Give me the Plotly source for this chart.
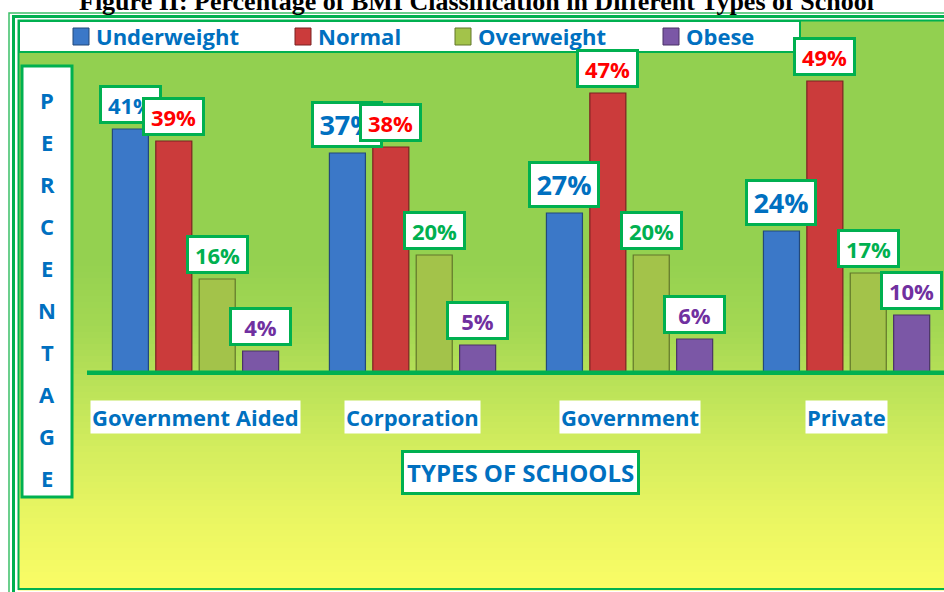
import plotly.graph_objects as go

schools = ["Government Aided", "Corporation", "Government", "Private"]
series_names = ["Underweight", "Normal", "Overweight", "Obese"]
underweight = [41, 37, 27, 24]
normal = [39, 38, 47, 49]
overweight = [16, 20, 20, 17]
obese = [4, 5, 6, 10]
series_values = [underweight, normal, overweight, obese]

bar_colors = ["#3B78C8", "#CB3B3B", "#A3C34A", "#7B57A6"]
edge_colors = ["#23497A", "#7A2222", "#62772A", "#4A3366"]
label_colors = ["#0070C0", "#FF0000", "#00B050", "#7030A0"]
BLUE = "#0070C0"
GREEN = "#00B050"
FONT = "Open Sans"

W, H = 944, 592
L, T, B = 87, 60, 217
PW = W - L
PH = H - T - B


def px(x):
    return (x - L) / PW


def py(y):
    return (H - B - y) / PH


fig = go.Figure()
for name, vals, c, ec in zip(series_names, series_values, bar_colors, edge_colors):
    fig.add_trace(go.Bar(
        x=schools, y=vals, name=name,
        marker=dict(color=c, line=dict(color=ec, width=1.2)),
        showlegend=False, hoverinfo="skip",
    ))

shapes = []


def hex2rgb(h):
    h = h.lstrip("#")
    return tuple(int(h[i:i + 2], 16) for i in (0, 2, 4))


stops = [(20, "#92D050"), (260, "#94D150"), (330, "#A4D853"), (380, "#B8E158"),
         (450, "#D4ED5E"), (520, "#EAF662"), (590, "#FAFC66")]


def grad(yv):
    for (y0, c0), (y1, c1) in zip(stops[:-1], stops[1:]):
        if y0 <= yv <= y1:
            t = (yv - y0) / (y1 - y0)
            a, b = hex2rgb(c0), hex2rgb(c1)
            return "rgb(%d,%d,%d)" % tuple(round(a[i] + (b[i] - a[i]) * t) for i in range(3))
    return stops[-1][1]


step = 6
yy = 20
while yy < 590:
    y2 = min(yy + step, 590)
    shapes.append(dict(type="rect", xref="paper", yref="paper",
                       x0=px(18), x1=px(960), y0=py(y2 + 0.5), y1=py(yy),
                       fillcolor=grad(yy + step / 2), line=dict(width=0), layer="below"))
    yy = y2

# frame lines
shapes.append(dict(type="rect", xref="paper", yref="paper", x0=px(9), x1=px(1000), y0=py(700), y1=py(13),
                   line=dict(color="#3CC068", width=1.5), fillcolor="rgba(0,0,0,0)", layer="below"))
shapes.append(dict(type="rect", xref="paper", yref="paper", x0=px(13.5), x1=px(1000), y0=py(700), y1=py(16.5),
                   line=dict(color=GREEN, width=3), fillcolor="rgba(0,0,0,0)", layer="below"))
shapes.append(dict(type="rect", xref="paper", yref="paper", x0=px(18.5), x1=px(1000), y0=py(589), y1=py(20.5),
                   line=dict(color=GREEN, width=2), fillcolor="rgba(0,0,0,0)", layer="below"))

# legend box
shapes.append(dict(type="rect", xref="paper", yref="paper", x0=px(19), x1=px(800), y0=py(52), y1=py(21),
                   line=dict(color=GREEN, width=2), fillcolor="white", layer="below"))
# y label box
shapes.append(dict(type="rect", xref="paper", yref="paper", x0=px(22), x1=px(72), y0=py(497), y1=py(66),
                   line=dict(color=GREEN, width=3), fillcolor="white", layer="below"))
# baseline
shapes.append(dict(type="line", xref="paper", yref="y", x0=0, x1=1, y0=0, y1=0,
                   line=dict(color=GREEN, width=9), layer="above"))

annotations = []

# title (clipped at top of page, as in the source)
annotations.append(dict(text="<b>Figure II: Percentage of BMI Classification in Different Types of School</b>",
                        xref="paper", yref="paper", x=px(476), y=py(1), showarrow=False,
                        xanchor="center", yanchor="middle",
                        font=dict(family="Liberation Serif", size=26, color="black")))

# custom legend
leg_marker_x = [73, 295, 455, 663]
for name, c, ec, mx in zip(series_names, bar_colors, edge_colors, leg_marker_x):
    shapes.append(dict(type="rect", xref="paper", yref="paper", x0=px(mx), x1=px(mx + 16),
                       y0=py(45), y1=py(28), fillcolor=c, line=dict(color=ec, width=1), layer="above"))
    annotations.append(dict(text="<b>%s</b>" % name, xref="paper", yref="paper", x=px(mx + 21), y=py(36),
                            xanchor="left", yanchor="middle", showarrow=False,
                            font=dict(family=FONT, size=22, color=BLUE)))

# data labels
big = {(0, 1), (0, 2), (0, 3)}
slot_px = 0.2 * PW / 3.949
for si, (vals, lc) in enumerate(zip(series_values, label_colors)):
    for ci, (sch, v) in enumerate(zip(schools, vals)):
        is_big = (si, ci) in big
        annotations.append(dict(text="<b>%d%%</b>" % v, x=sch, y=v, xref="x", yref="y",
                                xshift=(si - 1.5) * slot_px, yshift=5,
                                xanchor="center", yanchor="bottom", showarrow=False,
                                width=66 if is_big else 57, height=41 if is_big else 33,
                                bgcolor="white", bordercolor=GREEN, borderwidth=3, borderpad=0,
                                font=dict(family=FONT, size=27 if is_big else 22, color=lc)))

# category labels
for sch in schools:
    annotations.append(dict(text="<b>%s</b>" % sch, x=sch, y=py(417), xref="x", yref="paper",
                            xanchor="center", yanchor="middle", showarrow=False,
                            bgcolor="white", borderpad=1,
                            font=dict(family=FONT, size=22, color=BLUE)))

# x axis title
annotations.append(dict(text="<b>TYPES OF SCHOOLS</b>", xref="paper", yref="paper", x=px(520), y=py(472),
                        xanchor="center", yanchor="middle", showarrow=False,
                        bgcolor="white", bordercolor=GREEN, borderwidth=3, borderpad=3,
                        font=dict(family=FONT, size=24, color=BLUE)))

# y axis title letters
for k, ch in enumerate("PERCENTAGE"):
    annotations.append(dict(text="<b>%s</b>" % ch, xref="paper", yref="paper", x=px(47), y=py(100 + 42 * k),
                            xanchor="center", yanchor="middle", showarrow=False,
                            font=dict(family=FONT, size=22, color=BLUE)))

fig.update_layout(
    width=W, height=H, autosize=False,
    margin=dict(l=L, r=0, t=T, b=B, pad=0),
    paper_bgcolor="white", plot_bgcolor="rgba(0,0,0,0)",
    barmode="group", bargap=0.2, bargroupgap=0.17,
    xaxis=dict(range=[-0.5, 3.449], showticklabels=False, showgrid=False, zeroline=False,
               showline=False, ticks=""),
    yaxis=dict(range=[0, PH / 6.0], showticklabels=False, showgrid=False, zeroline=False,
               showline=False, ticks=""),
    shapes=shapes, annotations=annotations, showlegend=False,
)

fig.write_html("out.html", config={"displayModeBar": False},
               post_script="document.body.style.margin='0';document.body.style.overflow='hidden';")
